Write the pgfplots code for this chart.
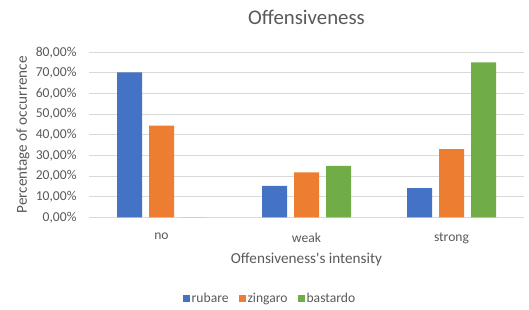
\documentclass[border=0pt]{standalone}
\usepackage{pgfplots}
\pgfplotsset{compat=1.18}
\usepackage{fontspec}
\setmainfont{Carlito}
\definecolor{txt}{HTML}{595959}
\definecolor{grid}{HTML}{D9D9D9}
\definecolor{cblue}{HTML}{4472C4}
\definecolor{corange}{HTML}{ED7D31}
\definecolor{cgreen}{HTML}{70AD47}
\begin{document}
\begin{tikzpicture}
\path[use as bounding box] (0,0) rectangle (529pt,309pt);
\begin{axis}[
  at={(89pt,91.7pt)}, anchor=south west,
  scale only axis, width=435pt, height=165pt,
  xmin=-0.5, xmax=2.5, ymin=0, ymax=80,
  ybar=7pt, bar width=25pt,
  xtick={0,1,2}, xticklabels={no,weak,strong},
  ytick={0,10,...,80},
  yticklabels={{0,00\%},{10,00\%},{20,00\%},{30,00\%},{40,00\%},{50,00\%},{60,00\%},{70,00\%},{80,00\%}},
  major tick length=0pt,
  axis x line*=bottom, axis y line*=left,
  x axis line style={draw=grid, line width=1pt},
  y axis line style={draw=none},
  ymajorgrids, grid style={draw=grid, line width=1pt},
  tick label style={font=\fontsize{13.6}{16}\selectfont, text=txt},
  yticklabel style={xshift=-9pt},
  xticklabel style={yshift=-12pt},
  title={Offensiveness},
  title style={at={(axis description cs:0.5,1)}, anchor=center, yshift=29.3pt, font=\fontsize{20.8}{25}\selectfont, text=txt},
  xlabel={Offensiveness\textquotesingle s intensity},
  xlabel style={at={(axis description cs:0.5,0)}, anchor=center, yshift=-41.7pt, font=\fontsize{15.2}{18}\selectfont, text=txt},
  ylabel={Percentage of occurrence},
  ylabel style={at={(axis description cs:-0.152,0.5)}, anchor=center, rotate=0, font=\fontsize{15.2}{18}\selectfont, text=txt},
  legend style={at={(axis description cs:0.416,-0.495)}, anchor=center, draw=none, fill=none, legend columns=-1,
    font=\fontsize{13.6}{16}\selectfont, text=txt,
    /tikz/every even column/.append style={column sep=8pt}},
  legend cell align=left,
  legend image code/.code={\fill[#1] (0pt,-3.5pt) rectangle (7pt,3.5pt);},
  every axis plot/.append style={draw=none},
]
\addplot[fill=cblue] coordinates {(0,70.3) (1,15.2) (2,14.2)};
\addplot[fill=corange] coordinates {(0,44.4) (1,21.8) (2,33.1)};
\addplot[fill=cgreen] coordinates {(0,0) (1,24.9) (2,75.1)};
\legend{rubare,zingaro,bastardo}
\end{axis}
\end{tikzpicture}
\end{document}
